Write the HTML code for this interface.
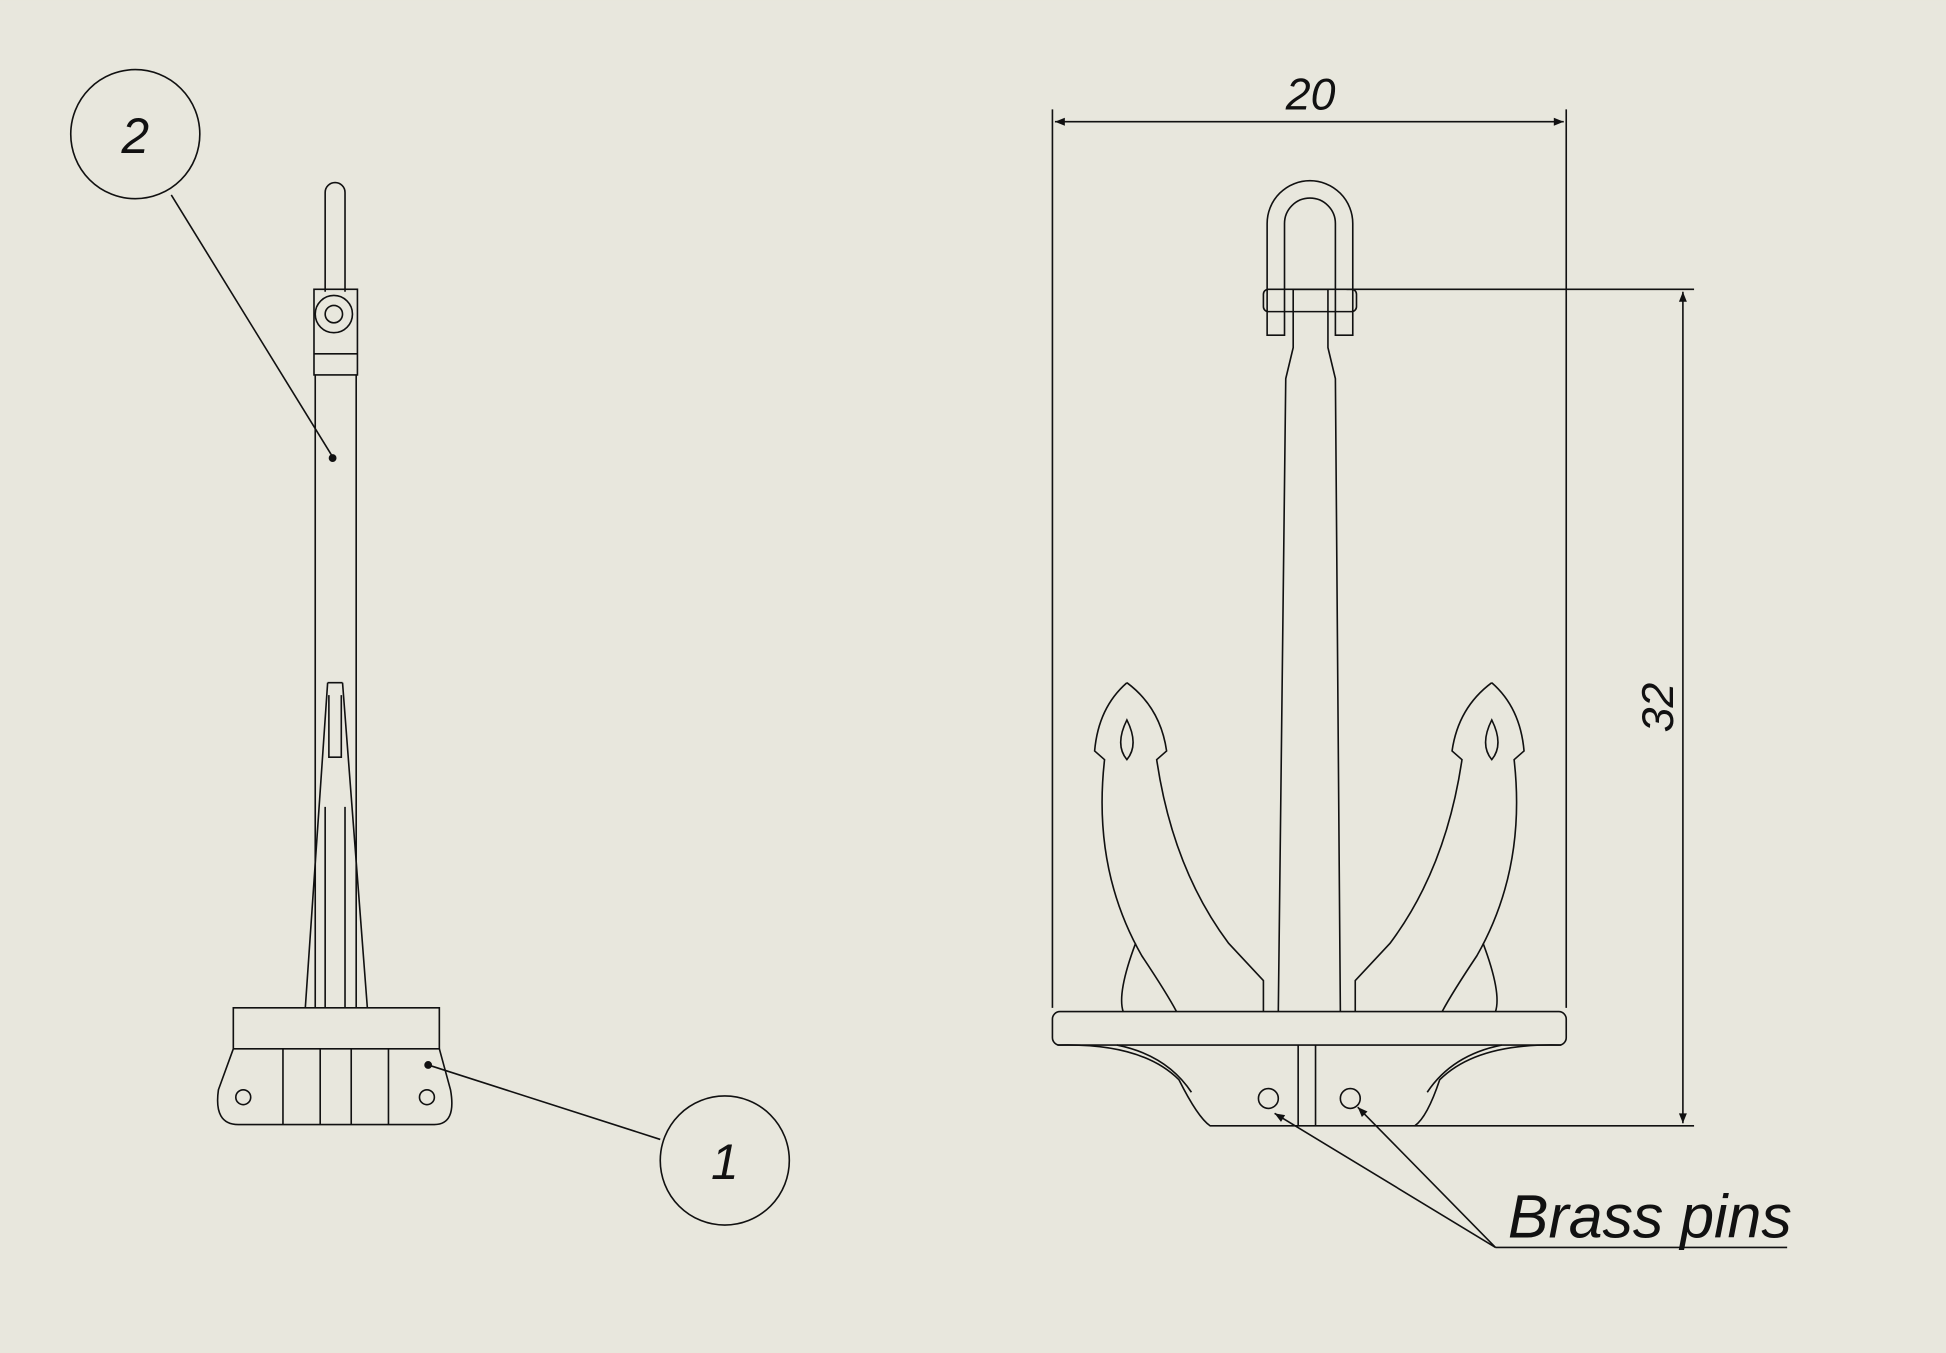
<!DOCTYPE html>
<html><head><style>
html,body{margin:0;padding:0;background:#e8e7dd;}
svg{display:block;}
text{font-family:"Liberation Sans",sans-serif;font-style:italic;fill:#111;}
</style></head><body>
<svg width="1946" height="1353" viewBox="0 0 1568 1090" xmlns="http://www.w3.org/2000/svg">
<rect width="1568" height="1090" fill="#e8e7dd"/>
<defs>
<marker id="ar" viewBox="0 0 10 10" refX="10" refY="5" markerWidth="22" markerHeight="8" markerUnits="userSpaceOnUse" orient="auto-start-reverse"><path d="M0,1 L10,5 L0,9 z" fill="#111"/></marker>
</defs>
<g fill="none" stroke="#111" stroke-width="1.3">
<circle cx="109" cy="108" r="52"/>
<text x="109" y="123" font-size="40" text-anchor="middle" stroke="none">2</text>
<line x1="138" y1="157" x2="268" y2="368"/>
<circle cx="268" cy="369" r="2.5" fill="#111"/>
<path d="M262,235 V155 A8,8 0 0 1 278,155 V235"/>
<rect x="253" y="233" width="35" height="69"/>
<line x1="253" y1="285" x2="288" y2="285"/>
<circle cx="269" cy="253" r="15"/>
<circle cx="269" cy="253" r="7"/>
<line x1="254" y1="302" x2="254" y2="812"/>
<line x1="287" y1="302" x2="287" y2="812"/>
<path d="M264,550 L246,812 M276,550 L296,812 M264,550 H276 M265,560 V610 H275 V560 M262,650 V812 M278,650 V812"/>
<path d="M188,812 H354 V845 H188 Z"/>
<path d="M188,845 L176,878 Q172,906 192,906 H350 Q368,906 363,878 L354,845"/>
<path d="M228,845 V906 M258,845 V906 M283,845 V906 M313,845 V906"/>
<circle cx="196" cy="884" r="6"/>
<circle cx="344" cy="884" r="6"/>
<line x1="345" y1="858" x2="532" y2="918"/>
<circle cx="345" cy="858" r="2.5" fill="#111"/>
<circle cx="584" cy="935" r="52"/>
<text x="584" y="950" font-size="40" text-anchor="middle" stroke="none">1</text>

<line x1="848" y1="88" x2="848" y2="812"/>
<line x1="1262" y1="88" x2="1262" y2="812"/>
<line x1="850" y1="98" x2="1260" y2="98" marker-start="url(#ar)" marker-end="url(#ar)"/>
<text x="1056" y="88" font-size="36" text-anchor="middle" stroke="none">20</text>
<line x1="1085" y1="233" x2="1365" y2="233"/>
<line x1="1140" y1="907" x2="1365" y2="907"/>
<line x1="1356" y1="235" x2="1356" y2="905" marker-start="url(#ar)" marker-end="url(#ar)"/>
<text transform="translate(1348,570) rotate(-90)" font-size="36" text-anchor="middle" stroke="none">32</text>
<path d="M1021,270 V180 A34,34 0 0 1 1090,180 V270 H1076 V180 A20,20 0 0 0 1035,180 V270 Z"/>
<rect x="1018" y="233" width="75" height="18" rx="4"/>
<path d="M1042,233 V280 L1036,305 L1030,815 M1070,233 V280 L1076,305 L1080,815 M1042,233 H1070"/>
<path d="M908,550 Q885,570 882,605 L890,612 Q880,700 920,770 Q940,800 948,815"/>
<path d="M908,550 Q935,570 940,605 L932,612 Q945,700 990,760 L1018,790 V815"/>
<path d="M908,580 Q898,600 908,612 Q918,600 908,580 Z"/>
<path d="M915,760 Q900,800 905,815"/>
<path d="M1202,550 Q1225,570 1228,605 L1220,612 Q1230,700 1190,770 Q1170,800 1162,815"/>
<path d="M1202,550 Q1175,570 1170,605 L1178,612 Q1165,700 1120,760 L1092,790 V815"/>
<path d="M1202,580 Q1212,600 1202,612 Q1192,600 1202,580 Z"/>
<path d="M1195,760 Q1210,800 1205,815"/>
<rect x="848" y="815" width="414" height="27" rx="6"/>
<path d="M852,842 Q920,840 950,870 Q965,900 975,907 H1140 Q1150,900 1160,870 Q1190,840 1258,842"/>
<path d="M900,842 Q940,850 960,880 M1210,842 Q1170,850 1150,880"/>
<path d="M1046,842 V907 M1060,842 V907"/>
<circle cx="1022" cy="885" r="8"/>
<circle cx="1088" cy="885" r="8"/>
<line x1="1205" y1="1005" x2="1440" y2="1005"/>
<line x1="1205" y1="1005" x2="1027" y2="897" marker-end="url(#ar)"/>
<line x1="1205" y1="1005" x2="1094" y2="892" marker-end="url(#ar)"/>
<text x="1215" y="997" font-size="49" stroke="none">Brass pins</text>
</g>
</svg>
</body></html>
